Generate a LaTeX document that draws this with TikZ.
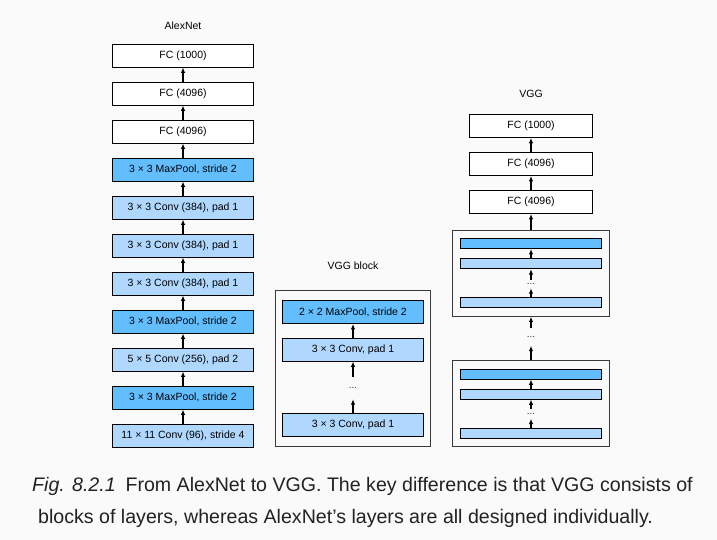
\documentclass[tikz,border=0pt]{standalone}
\usepackage{fontspec}
\setmainfont{Liberation Sans}
\usetikzlibrary{arrows.meta,positioning,fit}
\definecolor{pagebg}{HTML}{FAFAFA}
\definecolor{convblue}{HTML}{B0D8FF}
\definecolor{poolblue}{HTML}{63BEFF}
\definecolor{edgegray}{HTML}{3A3A3A}
\definecolor{captext}{HTML}{222222}

\begin{document}
\begin{tikzpicture}[
        x=1pt, y=-1pt,
        node distance=14.1pt,
        layer/.style={
          draw=black,
          line width=0.9pt,
          minimum width=141pt,
          minimum height=23pt,
          inner sep=0pt,
          font=\fontsize{10.5}{12}\selectfont
        },
        fclayer/.style={layer, fill=white},
        convlayer/.style={layer, fill=convblue},
        poollayer/.style={layer, fill=poolblue},
        bar/.style={
          draw=black,
          line width=0.9pt,
          minimum width=141pt,
          minimum height=10pt,
          inner sep=0pt
        },
        convbar/.style={bar, fill=convblue},
        poolbar/.style={bar, fill=poolblue},
        block/.style={draw=edgegray, line width=1pt},
        title/.style={font=\fontsize{10.5}{12}\selectfont},
        dotsnode/.style={inner sep=0pt, text=black!80, font=\fontsize{10}{10}\selectfont},
        arrow/.style={
          -{Latex[length=5.5pt,width=4.5pt]},
          line width=1.2pt
        }
      ]

      \fill[pagebg] (0,0) rectangle (717,540);
      \useasboundingbox (0,0) rectangle (717,540);

      % AlexNet
      \node[title] (alextitle) at (183,26) {AlexNet};
      \node[convlayer] (alex1) at (183,435.5) {11 × 11 Conv (96), stride 4};
      \node[poollayer, above=of alex1] (alex2) {3 × 3 MaxPool, stride 2};
      \node[convlayer, above=of alex2] (alex3) {5 × 5 Conv (256), pad 2};
      \node[poollayer, above=of alex3] (alex4) {3 × 3 MaxPool, stride 2};
      \node[convlayer, above=of alex4] (alex5) {3 × 3 Conv (384), pad 1};
      \node[convlayer, above=of alex5] (alex6) {3 × 3 Conv (384), pad 1};
      \node[convlayer, above=of alex6] (alex7) {3 × 3 Conv (384), pad 1};
      \node[poollayer, above=of alex7] (alex8) {3 × 3 MaxPool, stride 2};
      \node[fclayer, above=of alex8] (alex9) {FC (4096)};
      \node[fclayer, above=of alex9] (alex10) {FC (4096)};
      \node[fclayer, above=of alex10] (alex11) {FC (1000)};

      \draw[arrow] (alex1) -- (alex2);
      \draw[arrow] (alex2) -- (alex3);
      \draw[arrow] (alex3) -- (alex4);
      \draw[arrow] (alex4) -- (alex5);
      \draw[arrow] (alex5) -- (alex6);
      \draw[arrow] (alex6) -- (alex7);
      \draw[arrow] (alex7) -- (alex8);
      \draw[arrow] (alex8) -- (alex9);
      \draw[arrow] (alex9) -- (alex10);
      \draw[arrow] (alex10) -- (alex11);

      % VGG block
      \node[title] (blocktitle) at (353,266) {VGG block};
      \node[convlayer] (bconv2) at (353,425) {3 × 3 Conv, pad 1};
      \node[dotsnode, minimum height=22pt] (bdots) at (353,388) {...};
      \node[convlayer] (bconv1) at (353,349.5) {3 × 3 Conv, pad 1};
      \node[poollayer] (bpool) at (353,312) {2 × 2 MaxPool, stride 2};
      \node[block, fit=(bpool)(bconv2), inner xsep=7pt, inner ysep=10pt] (vggblock) {};

      \draw[arrow] (bconv2) -- (bdots);
      \draw[arrow] (bdots) -- (bconv1);
      \draw[arrow] (bconv1) -- (bpool);

      % VGG
      \node[title] (vggtitle) at (531,94) {VGG};
      \node[fclayer, minimum width=123pt] (vfc3) at (531,126) {FC (1000)};
      \node[fclayer, minimum width=123pt] (vfc2) at (531,164) {FC (4096)};
      \node[fclayer, minimum width=123pt] (vfc1) at (531,202) {FC (4096)};

      \node[poolbar] (ubar1) at (531,243.5) {};
      \node[convbar] (ubar2) at (531,263.7) {};
      \node[dotsnode, minimum height=8pt] (udots) at (531,284) {...};
      \node[convbar] (ubar3) at (531,302.7) {};
      \node[block, fit=(ubar1)(ubar3), inner xsep=7.5pt, inner ysep=8pt] (upper) {};

      \node[dotsnode, minimum height=17pt] (middots) at (531,337) {...};

      \node[poolbar] (lbar1) at (531,374) {};
      \node[convbar] (lbar2) at (531,394) {};
      \node[dotsnode, minimum height=9pt] (ldots) at (531,414) {...};
      \node[convbar] (lbar3) at (531,433.3) {};
      \node[block, fit=(lbar1)(lbar3), inner xsep=7.5pt, inner ysep=8pt] (lower) {};

      \draw[arrow] (lbar3) -- (ldots);
      \draw[arrow] (ldots) -- (lbar2);
      \draw[arrow] (lbar2) -- (lbar1);
      \draw[arrow] (lower) -- (middots);
      \draw[arrow] (middots) -- (upper);
      \draw[arrow] (ubar3) -- (udots);
      \draw[arrow] (udots) -- (ubar2);
      \draw[arrow] (ubar2) -- (ubar1);
      \draw[arrow] (upper) -- (vfc1);
      \draw[arrow] (vfc1) -- (vfc2);
      \draw[arrow] (vfc2) -- (vfc3);

      % caption
      \node[anchor=base west, inner sep=0pt, text=captext, font=\fontsize{19.6}{22}\selectfont] (caption1) at (32,491)
        {\textit{Fig. 8.2.1}\enspace From AlexNet to VGG. The key difference is that VGG consists of};
      \node[anchor=base west, inner sep=0pt, text=captext, font=\fontsize{19.6}{22}\selectfont] (caption2) at (38,523)
        {blocks of layers, whereas AlexNet’s layers are all designed individually.};

\end{tikzpicture}
\end{document}
